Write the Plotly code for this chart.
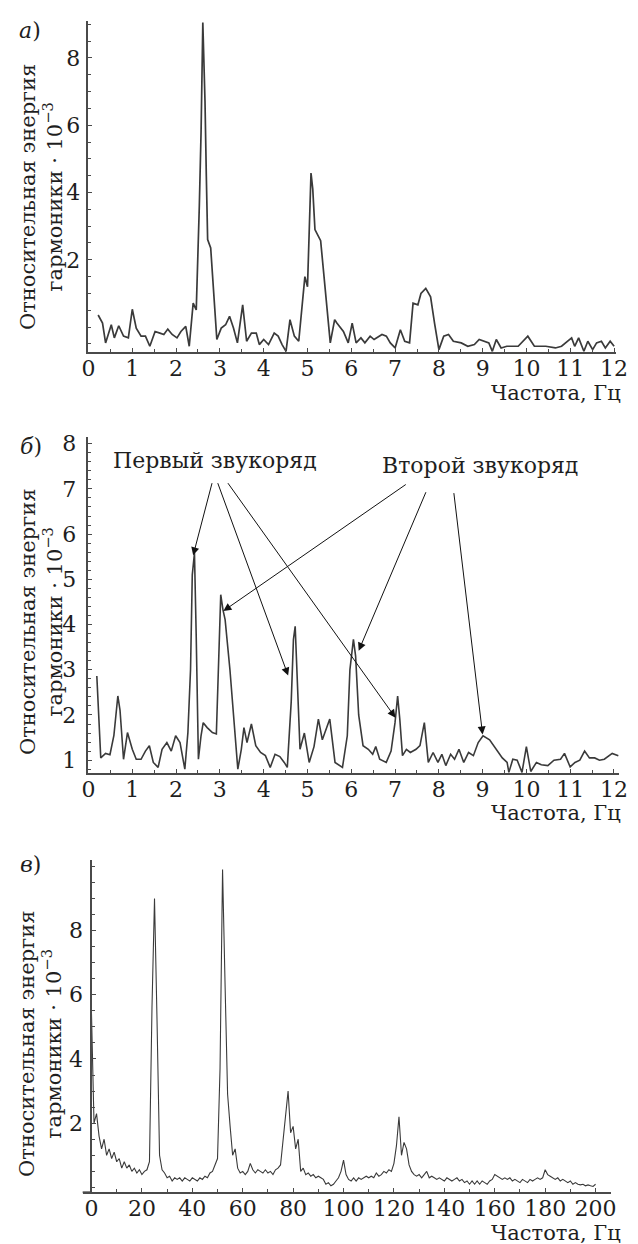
import plotly.graph_objects as go

W, H = 638, 1244

# ---------- Panel а) ----------
freq_a = [0.22, 0.32, 0.39, 0.52, 0.59, 0.69, 0.80, 0.91, 1.00, 1.09, 1.20, 1.30, 1.40, 1.52,
          1.63, 1.72, 1.81, 1.91, 2.02, 2.11, 2.22, 2.30, 2.39, 2.46, 2.53, 2.57, 2.61, 2.63,
          2.66, 2.69, 2.72, 2.79, 2.86, 2.93, 3.03, 3.13, 3.22, 3.31, 3.40, 3.52, 3.61, 3.72,
          3.83, 3.90, 4.00, 4.11, 4.24, 4.33, 4.42, 4.51, 4.60, 4.70, 4.80, 4.88, 4.94, 5.00,
          5.04, 5.08, 5.12, 5.17, 5.30, 5.52, 5.62, 5.67, 5.82, 5.93, 6.02, 6.11, 6.22, 6.31,
          6.43, 6.52, 6.70, 6.80, 6.89, 7.00, 7.12, 7.22, 7.33, 7.41, 7.52, 7.59, 7.70, 7.81,
          7.90, 8.00, 8.11, 8.22, 8.33, 8.51, 8.66, 8.81, 8.92, 9.03, 9.14, 9.22, 9.31, 9.42,
          9.55, 9.81, 9.96, 10.03, 10.18, 10.44, 10.66, 10.80, 11.03, 11.10, 11.19, 11.31,
          11.40, 11.51, 11.60, 11.71, 11.80, 11.91, 12.00]
energy_a = [0.36, 0.12, -0.47, 0.07, -0.32, 0.04, -0.27, -0.32, 0.53, -0.03, -0.27, -0.27, -0.57, -0.13,
            -0.18, -0.22, -0.06, -0.22, -0.32, -0.13, 0.02, -0.57, 0.71, 0.51, 3.6, 5.8, 9.05, 8.25,
            6.7, 4.5, 2.6, 2.35, 0.9, -0.37, -0.03, 0.07, 0.32, -0.03, -0.47, 0.66, -0.42, -0.18,
            -0.18, -0.52, -0.37, -0.52, -0.18, -0.27, -0.52, -0.72, 0.22, -0.27, -0.42, 0.71, 1.5, 1.2,
            3.3, 4.58, 4.1, 2.9, 2.57, -0.47, 0.22, 0.12, -0.13, -0.47, 0.12, -0.47, -0.32, -0.47,
            -0.27, -0.37, -0.22, -0.27, -0.47, -0.62, -0.08, -0.42, -0.47, 0.71, 0.66, 1.0, 1.15, 0.9,
            0.12, -0.67, -0.27, -0.22, -0.42, -0.47, -0.57, -0.52, -0.37, -0.42, -0.47, -0.72, -0.37, -0.62,
            -0.57, -0.57, -0.37, -0.27, -0.57, -0.57, -0.62, -0.57, -0.32, -0.57, -0.32, -0.72,
            -0.42, -0.67, -0.47, -0.42, -0.62, -0.42, -0.57]

# ---------- Panel б) ----------
freq_b = [0.19, 0.23, 0.28, 0.39, 0.49, 0.58, 0.67, 0.72, 0.80, 0.89, 1.00, 1.09, 1.20, 1.30,
          1.39, 1.48, 1.59, 1.68, 1.79, 1.89, 1.99, 2.09, 2.20, 2.27, 2.33, 2.37, 2.42, 2.46,
          2.51, 2.57, 2.62, 2.71, 2.83, 2.92, 2.97, 3.02, 3.07, 3.12, 3.23, 3.32, 3.41, 3.49,
          3.55, 3.62, 3.72, 3.82, 3.93, 4.04, 4.15, 4.26, 4.37, 4.47, 4.54, 4.63, 4.68, 4.72,
          4.76, 4.83, 4.93, 5.04, 5.15, 5.25, 5.34, 5.51, 5.63, 5.80, 5.91, 5.97, 6.05, 6.10,
          6.17, 6.27, 6.39, 6.49, 6.56, 6.65, 6.80, 6.91, 7.00, 7.06, 7.11, 7.17, 7.26, 7.35,
          7.48, 7.57, 7.67, 7.76, 7.87, 7.98, 8.07, 8.16, 8.27, 8.36, 8.46, 8.57, 8.68, 8.79,
          8.90, 9.01, 9.16, 9.31, 9.45, 9.56, 9.60, 9.69, 9.79, 9.90, 10.00, 10.10, 10.23,
          10.34, 10.49, 10.63, 10.78, 10.87, 11.00, 11.11, 11.22, 11.33, 11.44, 11.56, 11.67,
          11.78, 11.89, 11.96, 12.10]
energy_b = [2.86, 1.9, 1.05, 1.15, 1.12, 1.55, 2.42, 2.1, 1.02, 1.61, 1.24, 1.02, 1.02, 1.2,
            1.32, 0.95, 0.84, 1.24, 1.39, 1.2, 1.54, 1.39, 0.8, 1.61, 3.0, 5.1, 5.58, 3.74,
            1.02, 1.54, 1.83, 1.72, 1.61, 1.58, 3.0, 4.66, 4.33, 4.11, 3.0, 1.91, 0.8, 1.24,
            1.72, 1.39, 1.8, 1.32, 1.17, 1.1, 0.84, 1.13, 1.08, 0.95, 0.84, 2.3, 3.67, 3.96,
            3.0, 1.24, 1.6, 0.95, 1.3, 1.91, 1.45, 1.91, 0.95, 0.84, 1.54, 3.0, 3.67, 3.3,
            2.0, 1.32, 1.24, 1.13, 1.3, 1.02, 0.95, 1.2, 1.83, 2.42, 1.9, 1.1, 1.24, 1.17,
            1.24, 1.32, 1.83, 0.95, 1.17, 0.95, 1.13, 0.88, 1.13, 1.02, 1.24, 0.95, 1.17, 1.1,
            1.39, 1.54, 1.45, 1.24, 1.05, 0.95, 0.73, 1.02, 1.0, 0.73, 1.3, 0.75, 0.95,
            0.9, 0.88, 1.0, 1.02, 1.15, 0.85, 0.95, 1.0, 1.2, 1.05, 1.05, 1.0,
            1.02, 1.1, 1.15, 1.1]

# ---------- Panel в) ----------
freq_c = list(range(0, 201))
energy_c = [5.4, 2.0, 2.3, 1.6, 1.2, 1.5, 1.0, 1.2, 0.9, 1.1,
            0.8, 0.9, 0.6, 0.8, 0.6, 0.7, 0.5, 0.6, 0.45, 0.55,
            0.4, 0.5, 0.55, 0.8, 5.6, 9.0, 5.2, 1.0, 0.55, 0.45,
            0.3, 0.35, 0.2, 0.3, 0.25, 0.3, 0.2, 0.3, 0.25, 0.2,
            0.3, 0.25, 0.2, 0.3, 0.25, 0.35, 0.3, 0.45, 0.5, 0.7,
            0.9, 3.7, 9.9, 6.3, 2.9, 1.9, 1.0, 1.2, 0.6, 0.45,
            0.5, 0.4, 0.5, 0.75, 0.55, 0.45, 0.55, 0.5, 0.45, 0.55,
            0.45, 0.5, 0.4, 0.55, 0.6, 0.7, 1.5, 2.4, 3.0, 1.7,
            1.9, 1.2, 1.5, 0.5, 0.6, 0.4, 0.45, 0.35, 0.4, 0.3,
            0.35, 0.3, 0.25, 0.1, 0.15, 0.05, 0.1, 0.2, 0.3, 0.5,
            0.85, 0.4, 0.25, 0.2, 0.3, 0.2, 0.3, 0.25, 0.3, 0.35,
            0.3, 0.35, 0.3, 0.45, 0.35, 0.4, 0.5, 0.45, 0.55, 0.5,
            0.75, 1.3, 2.2, 1.0, 1.4, 1.2, 0.7, 0.5, 0.4, 0.35,
            0.4, 0.3, 0.4, 0.5, 0.3, 0.35, 0.3, 0.25, 0.3, 0.25,
            0.2, 0.3, 0.25, 0.2, 0.25, 0.3, 0.2, 0.25, 0.15, 0.2,
            0.1, 0.2, 0.1, 0.2, 0.1, 0.2, 0.15, 0.1, 0.2, 0.25,
            0.4, 0.35, 0.3, 0.25, 0.3, 0.25, 0.3, 0.2, 0.25, 0.2,
            0.15, 0.25, 0.2, 0.15, 0.25, 0.2, 0.25, 0.3, 0.25, 0.3,
            0.55, 0.4, 0.35, 0.3, 0.25, 0.3, 0.2, 0.25, 0.2, 0.15,
            0.2, 0.1, 0.15, 0.1, 0.08, 0.1, 0.05, 0.08, 0.05, 0.03,
            0.1]

xticks_ab = list(range(0, 13))
xticks_c = list(range(0, 201, 20))
yticks_a = [2, 4, 6, 8]
yticks_b = [1, 2, 3, 4, 5, 6, 7, 8]
yticks_c = [2, 4, 6, 8]

ytitle = "Относительная энергия<br>гармоники · 10<sup>−3</sup>"
xtitle = "Частота, Гц"

FONT = "DejaVu Serif"
TXT = "#1e1e1e"
LINE = "#3a3a3a"
AX = "#4a4a4a"


def px(x):
    return x / W


def py(y):
    return 1 - y / H


fig = go.Figure()
fig.add_trace(go.Scatter(x=freq_a, y=energy_a, mode="lines", line=dict(color=LINE, width=1.7),
                         xaxis="x", yaxis="y", showlegend=False))
fig.add_trace(go.Scatter(x=freq_b, y=energy_b, mode="lines", line=dict(color=LINE, width=1.6),
                         xaxis="x2", yaxis="y2", showlegend=False))
fig.add_trace(go.Scatter(x=freq_c, y=energy_c, mode="lines", line=dict(color=LINE, width=1.1),
                         xaxis="x3", yaxis="y3", showlegend=False))

tickfont = dict(family=FONT, size=22, color=TXT)


def xaxis(domain, rng, tickvals, minor_dtick, anchor):
    return dict(domain=domain, range=rng, tickvals=tickvals, ticks="inside", ticklen=4,
                tickcolor=AX, showline=True, linecolor=AX, linewidth=1.8, showgrid=False,
                zeroline=False, tickfont=tickfont, anchor=anchor, fixedrange=True,
                ticklabelstandoff=-5,
                minor=dict(ticks="inside", ticklen=3, dtick=minor_dtick, tick0=0, tickcolor=AX,
                           showgrid=False))


def yaxis(domain, rng, tickvals, minor_dtick, anchor, standoff, position=None):
    d = dict(domain=domain, range=rng, tickvals=tickvals, ticks="inside", ticklen=4,
             tickcolor=AX, showline=True, linecolor=AX, linewidth=1.8, showgrid=False,
             zeroline=False, tickfont=tickfont, anchor=anchor, fixedrange=True,
             ticklabelstandoff=standoff,
             minor=dict(ticks="inside", ticklen=3, dtick=minor_dtick, tick0=0, tickcolor=AX,
                        showgrid=False))
    if position is not None:
        d["anchor"] = "free"
        d["position"] = position
    return d


fig.update_layout(
    width=W, height=H, margin=dict(l=0, r=0, t=0, b=0),
    paper_bgcolor="white", plot_bgcolor="white",
    xaxis=xaxis([px(84), px(628)], [0, 12.05], xticks_ab, 0.5, "y"),
    yaxis=yaxis([py(348), py(15)], [-0.75, 9.1], yticks_a, 0.5, "x", 2),
    xaxis2=xaxis([px(84), px(631)], [0, 12.12], xticks_ab, 0.5, "y2"),
    yaxis2=yaxis([py(771), py(433)], [0.71, 8.15], yticks_b, 0.2, "x2", 6),
    xaxis3=xaxis([px(78), px(623)], [-3.5, 206.3], xticks_c, 10, "y3"),
    yaxis3=yaxis([py(1192), py(858)], [-0.15, 10.2], yticks_c, 0.5, "x3", 3, position=px(87)),
)

ann = []
# y-axis titles
for cx, cy in [(35, 192), (35, 619), (35, 1043)]:
    ann.append(dict(text=ytitle, x=px(cx), y=py(cy), xref="paper", yref="paper", showarrow=False,
                    textangle=-90, xanchor="center", yanchor="middle",
                    font=dict(family=FONT, size=21, color=TXT)))
# x-axis titles
for cy in [389, 811, 1233]:
    ann.append(dict(text=xtitle, x=px(635), y=py(cy), xref="paper", yref="paper", showarrow=False,
                    xanchor="right", yanchor="middle", font=dict(family=FONT, size=21, color=TXT)))
# panel letters
for lab, cx, cy in [("а", 24, 25), ("б", 25, 443), ("в", 24, 863)]:
    ann.append(dict(text="<i>" + lab + "</i>)", x=px(cx), y=py(cy), xref="paper", yref="paper",
                    showarrow=False, xanchor="center", yanchor="middle",
                    font=dict(family=FONT, size=22, color=TXT)))
# group labels in panel б
ann.append(dict(text="Первый звукоряд", x=px(214), y=py(457), xref="paper", yref="paper",
                showarrow=False, xanchor="center", yanchor="middle",
                font=dict(family=FONT, size=22, color=TXT)))
ann.append(dict(text="Второй звукоряд", x=px(488), y=py(462), xref="paper", yref="paper",
                showarrow=False, xanchor="center", yanchor="middle",
                font=dict(family=FONT, size=22, color=TXT)))
arrows = [
    ((2.83, 7.16), (2.39, 5.53)),
    ((2.94, 7.16), (4.56, 2.87)),
    ((3.16, 7.16), (7.01, 1.94)),
    ((7.28, 7.12), (3.08, 4.30)),
    ((7.72, 6.96), (6.17, 3.42)),
    ((8.34, 6.94), (9.00, 1.57)),
]
for (tx, ty), (hx, hy) in arrows:
    ann.append(dict(x=hx, y=hy, ax=tx, ay=ty, xref="x2", yref="y2", axref="x2", ayref="y2",
                    text="", showarrow=True, arrowhead=2, arrowsize=1.6, arrowwidth=1.0,
                    arrowcolor="#111", standoff=0))
fig.update_layout(annotations=ann)

# short extension of the bottom axis of panel в to the left of zero
fig.add_shape(type="line", xref="paper", yref="paper", x0=px(78), x1=px(87), y0=py(1192), y1=py(1192),
              line=dict(color=AX, width=1.8))

fig.write_html(
    "out.html",
    config={"displayModeBar": False, "responsive": False},
    post_script="document.body.style.margin='0';document.body.style.padding='0';"
                "document.body.style.overflow='hidden';document.documentElement.style.overflow='hidden';",
)
